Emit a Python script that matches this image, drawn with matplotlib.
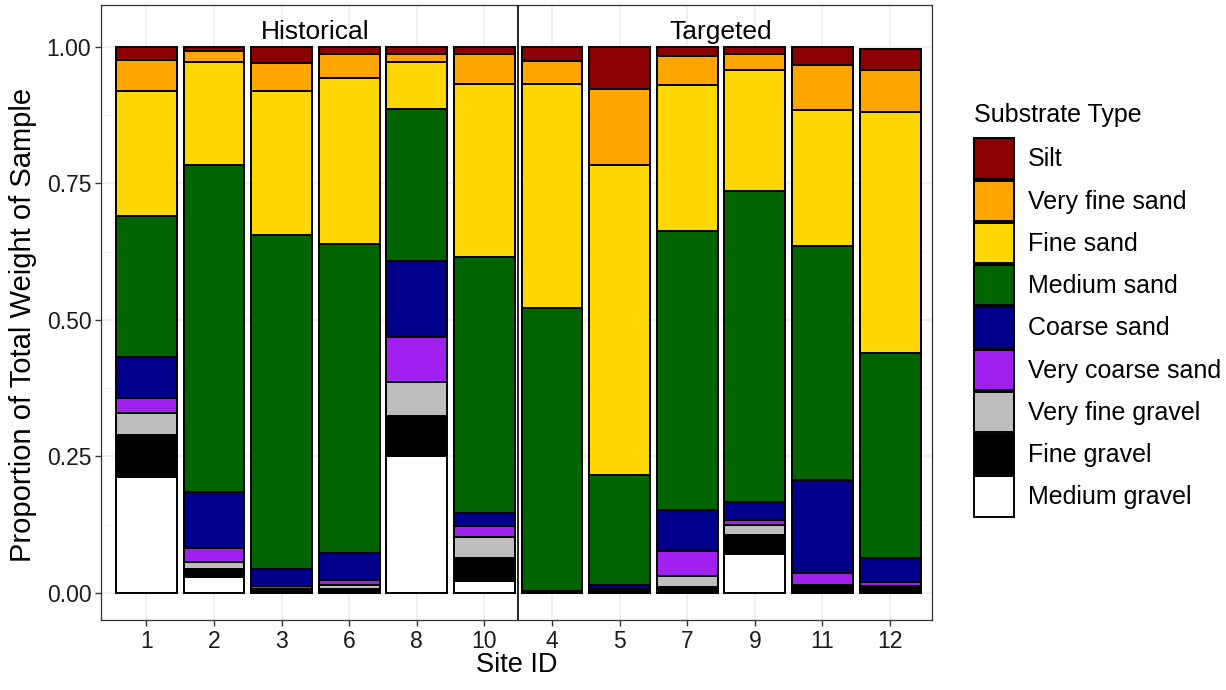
import matplotlib.pyplot as plt
from matplotlib.patches import Patch
import numpy as np

plt.rcParams['font.family'] = ['Liberation Sans', 'DejaVu Sans']

# Sites in plotting order (Historical first, then Targeted)
sites = ['1', '2', '3', '6', '8', '10', '4', '5', '7', '9', '11', '12']

# Proportions per substrate type, one value per site
medium_gravel = [0.213, 0.029, 0.000, 0.000, 0.251, 0.021, 0.000, 0.000, 0.000, 0.071, 0.000, 0.000]
fine_gravel = [0.076, 0.014, 0.004, 0.007, 0.072, 0.043, 0.002, 0.005, 0.010, 0.035, 0.015, 0.013]
very_fine_gravel = [0.040, 0.014, 0.003, 0.007, 0.063, 0.038, 0.000, 0.001, 0.020, 0.018, 0.000, 0.000]
very_coarse_sand = [0.027, 0.025, 0.005, 0.010, 0.082, 0.021, 0.000, 0.001, 0.047, 0.010, 0.022, 0.006]
coarse_sand = [0.076, 0.103, 0.032, 0.049, 0.139, 0.024, 0.002, 0.007, 0.075, 0.033, 0.170, 0.044]
medium_sand = [0.259, 0.598, 0.611, 0.566, 0.279, 0.468, 0.517, 0.202, 0.510, 0.570, 0.429, 0.376]
fine_sand = [0.229, 0.190, 0.265, 0.305, 0.086, 0.317, 0.412, 0.567, 0.269, 0.220, 0.249, 0.441]
very_fine_sand = [0.056, 0.019, 0.050, 0.044, 0.016, 0.055, 0.042, 0.140, 0.052, 0.030, 0.082, 0.078]
silt = [0.024, 0.008, 0.030, 0.012, 0.012, 0.013, 0.025, 0.077, 0.017, 0.013, 0.033, 0.038]

# bottom -> top stacking order
layers = [
    ('Medium gravel', medium_gravel, '#FFFFFF'),
    ('Fine gravel', fine_gravel, '#000000'),
    ('Very fine gravel', very_fine_gravel, '#BEBEBE'),
    ('Very coarse sand', very_coarse_sand, '#A020F0'),
    ('Coarse sand', coarse_sand, '#00008B'),
    ('Medium sand', medium_sand, '#006400'),
    ('Fine sand', fine_sand, '#FFD700'),
    ('Very fine sand', very_fine_sand, '#FFA500'),
    ('Silt', silt, '#8B0000'),
]

fig = plt.figure(figsize=(12.26, 6.9), dpi=100)
ax = fig.add_axes([0.0824, 0.1014, 0.6778, 0.8914])

x = np.arange(len(sites))
bottom = np.zeros(len(sites))
for name, vals, color in layers:
    vals = np.array(vals)
    ax.bar(x, vals, bottom=bottom, width=0.9, color=color,
           edgecolor='black', linewidth=1.4, label=name, zorder=3)
    bottom += vals

# divider between Historical and Targeted
ax.axvline(5.5, color='black', linewidth=1.2, zorder=4)
ax.text(2.5, 1.028, 'Historical', ha='center', va='center', fontsize=19)
ax.text(8.5, 1.028, 'Targeted', ha='center', va='center', fontsize=19)

ax.set_xlim(-0.67, 11.62)
ax.set_ylim(-0.05, 1.077)
ax.set_xticks(x)
ax.set_xticklabels(sites, fontsize=16.5)
ax.set_yticks([0, 0.25, 0.5, 0.75, 1.0])
ax.set_yticklabels(['0.00', '0.25', '0.50', '0.75', '1.00'], fontsize=16.5)
ax.set_yticks([0.125, 0.375, 0.625, 0.875], minor=True)
ax.tick_params(axis='both', which='major', length=4, width=1, color='#333333',
               labelcolor='#1a1a1a', pad=3)
ax.tick_params(axis='y', which='minor', length=0)

ax.grid(True, which='major', color='#EBEBEB', linewidth=1.1, zorder=0)
ax.grid(True, which='minor', axis='y', color='#F2F2F2', linewidth=0.6, zorder=0)
ax.set_axisbelow(True)
for s in ax.spines.values():
    s.set_color('#333333')
    s.set_linewidth(0.9)

ax.set_xlabel('Site ID', fontsize=19.5)
ax.set_ylabel('Proportion of Total Weight of Sample', fontsize=21)
ax.xaxis.set_label_coords(0.5, -0.052)
ax.yaxis.set_label_coords(-0.077, 0.479)

# legend: top entry = Silt
handles = [Patch(facecolor=c, edgecolor='black', linewidth=1.4, label=n)
           for n, _, c in reversed(layers)]
leg = fig.legend(handles=handles, title='Substrate Type', loc='upper left',
                 bbox_to_anchor=(0.786, 0.865), frameon=False, fontsize=18,
                 title_fontsize=18, handlelength=1.6, handleheight=2.1,
                 labelspacing=0.08, handletextpad=0.58, borderaxespad=0)
leg._legend_box.align = 'left'
leg._legend_box.sep = 8

fig.savefig('out.png', dpi=100)
